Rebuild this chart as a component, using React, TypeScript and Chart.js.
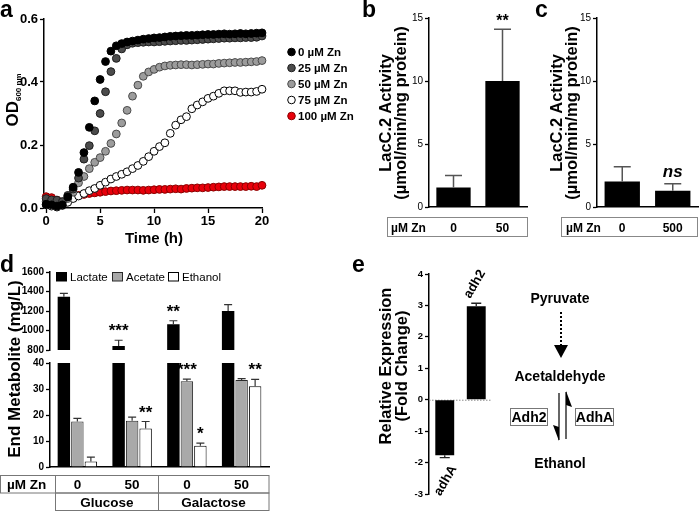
import React, { useEffect, useRef } from "react";
import { Chart, registerables } from "chart.js";

Chart.register(...registerables);

const FONT = "'Liberation Sans', Arial, Helvetica, sans-serif";

// ---------- Panel a: growth curves ----------
const hours = [0, 0.5, 1, 1.5, 2, 2.5, 3, 3.5, 4, 4.5, 5, 5.5, 6, 6.5, 7, 7.5, 8, 8.5, 9, 9.5, 10, 10.5, 11, 11.5, 12, 12.5, 13, 13.5, 14, 14.5, 15, 15.5, 16, 16.5, 17, 17.5, 18, 18.5, 19, 19.5, 20];
const od0 = [0.012, 0.010, 0.006, 0.010, 0.035, 0.066, 0.113, 0.176, 0.256, 0.340, 0.408, 0.465, 0.498, 0.515, 0.522, 0.527, 0.530, 0.533, 0.536, 0.538, 0.540, 0.541, 0.543, 0.545, 0.546, 0.547, 0.548, 0.548, 0.549, 0.550, 0.551, 0.551, 0.552, 0.553, 0.552, 0.553, 0.554, 0.553, 0.554, 0.555, 0.556];
const od25 = [0.030, 0.026, 0.025, 0.020, 0.040, 0.060, 0.095, 0.155, 0.198, 0.245, 0.300, 0.369, 0.433, 0.475, 0.505, 0.518, 0.523, 0.525, 0.526, 0.527, 0.527, 0.528, 0.529, 0.530, 0.531, 0.532, 0.532, 0.533, 0.534, 0.535, 0.536, 0.537, 0.538, 0.539, 0.539, 0.540, 0.540, 0.541, 0.541, 0.542, 0.546];
const od50 = [0.020, 0.018, 0.015, 0.020, 0.030, 0.050, 0.080, 0.100, 0.125, 0.145, 0.160, 0.180, 0.205, 0.235, 0.270, 0.310, 0.355, 0.390, 0.418, 0.432, 0.440, 0.447, 0.451, 0.453, 0.454, 0.455, 0.455, 0.454, 0.455, 0.456, 0.457, 0.457, 0.459, 0.460, 0.461, 0.462, 0.462, 0.463, 0.464, 0.465, 0.468];
const od75 = [0.010, 0.006, 0.003, 0.008, 0.018, 0.030, 0.038, 0.046, 0.055, 0.062, 0.072, 0.082, 0.092, 0.100, 0.107, 0.115, 0.125, 0.135, 0.148, 0.163, 0.180, 0.195, 0.207, 0.237, 0.263, 0.280, 0.290, 0.315, 0.327, 0.337, 0.348, 0.355, 0.364, 0.372, 0.372, 0.372, 0.367, 0.368, 0.368, 0.370, 0.377];
const od100 = [0.036, 0.033, 0.025, 0.015, 0.028, 0.035, 0.040, 0.043, 0.046, 0.048, 0.050, 0.052, 0.054, 0.055, 0.056, 0.057, 0.057, 0.057, 0.056, 0.057, 0.058, 0.059, 0.059, 0.060, 0.061, 0.060, 0.062, 0.063, 0.064, 0.064, 0.065, 0.066, 0.067, 0.068, 0.068, 0.068, 0.068, 0.068, 0.069, 0.068, 0.072];
const zincLabels = ["0 µM Zn", "25 µM Zn", "50 µM Zn", "75 µM Zn", "100 µM Zn"];
const zincFill = ["#000000", "#4b4b4b", "#9c9c9c", "#ffffff", "#e8000b"];
const zincStroke = ["#000000", "#1e1e1e", "#4a4a4a", "#000000", "#8a0000"];
const odTicks = [0, 0.2, 0.4, 0.6];
const timeTicks = [0, 5, 10, 15, 20];

// ---------- Panel b / c: LacC.2 activity ----------
const bDoses = ["0", "50"];
const bActivity = [1.55, 10.0];
const bErr = [0.95, 4.1];
const bSig = ["", "**"];
const cDoses = ["0", "500"];
const cActivity = [2.03, 1.29];
const cErr = [1.17, 0.55];
const cSig = ["", "ns"];
const activityTicks = [0, 5, 10, 15];

// ---------- Panel d: end metabolites ----------
const dDoses = ["0", "50", "0", "50"];
const dSugars = ["Glucose", "Galactose"];
const metaboliteNames = ["Lactate", "Acetate", "Ethanol"];
const lactate = [1346, 840, 1063, 1200];
const lactateErr = [34, 60, 37, 66];
const acetate = [17.5, 17.8, 33.0, 33.5];
const acetateErr = [1.2, 1.4, 0.8, 0.5];
const ethanol = [2.1, 14.8, 8.2, 31.1];
const ethanolErr = [1.7, 2.7, 1.0, 2.6];
const lactateSig = ["", "***", "**", ""];
const acetateSig = ["", "", "***", ""];
const ethanolSig = ["", "**", "*", "**"];
const upperTicks = [800, 1000, 1200, 1400, 1600];
const lowerTicks = [0, 10, 20, 30, 40];

// ---------- Panel e: relative expression ----------
const genes = ["adhA", "adh2"];
const foldChange = [-1.77, 2.97];
const foldErr = [0.07, 0.1];
const foldTicks = [-3, -2, -1, 0, 1, 2, 3, 4];

// ---------- plugins ----------
const errorBarPlugin = {
  id: "errbars",
  afterDatasetsDraw(chart: any, _a: any, opts: any) {
    const { ctx, chartArea: a } = chart;
    const ys = chart.scales.y;
    ctx.save();
    ctx.beginPath();
    ctx.rect(a.left - 10, a.top - 1, a.right - a.left + 20, a.bottom - a.top + 1);
    ctx.clip();
    ctx.strokeStyle = opts.color || "#333";
    ctx.lineWidth = opts.lineWidth || 1.2;
    chart.data.datasets.forEach((ds: any, di: number) => {
      if (!ds.errors) return;
      const meta = chart.getDatasetMeta(di);
      meta.data.forEach((el: any, i: number) => {
        const v = ds.data[i];
        const e = ds.errors[i];
        const s = v < 0 ? -1 : 1;
        const p0 = ys.getPixelForValue(v);
        const p1 = ys.getPixelForValue(v + s * e);
        const cap = opts.cap || 8;
        ctx.beginPath();
        ctx.moveTo(el.x, p0);
        ctx.lineTo(el.x, p1);
        ctx.moveTo(el.x - cap / 2, p1);
        ctx.lineTo(el.x + cap / 2, p1);
        ctx.stroke();
      });
    });
    ctx.restore();
    ctx.save();
    ctx.fillStyle = "#000";
    ctx.font = opts.sigFont || `bold 16px ${FONT}`;
    ctx.textAlign = "center";
    ctx.textBaseline = "alphabetic";
    chart.data.datasets.forEach((ds: any, di: number) => {
      if (!ds.sig) return;
      const meta = chart.getDatasetMeta(di);
      meta.data.forEach((el: any, i: number) => {
        const t = ds.sig[i];
        if (!t) return;
        const top = ys.getPixelForValue(ds.data[i] + (ds.errors ? ds.errors[i] : 0));
        ctx.fillText(t, el.x, top - (opts.sigGap ?? 4));
      });
    });
    ctx.restore();
  },
};

const geneLabelPlugin = {
  id: "genelabels",
  beforeDatasetsDraw(chart: any) {
    const { ctx, chartArea: a } = chart;
    const y0 = chart.scales.y.getPixelForValue(0);
    ctx.save();
    ctx.strokeStyle = "#8a8a8a";
    ctx.lineWidth = 1;
    ctx.setLineDash([1.5, 1.5]);
    ctx.beginPath();
    ctx.moveTo(a.left, y0 + 0.5);
    ctx.lineTo(a.right, y0 + 0.5);
    ctx.stroke();
    ctx.restore();
  },
  afterDatasetsDraw(chart: any) {
    const { ctx } = chart;
    const ys = chart.scales.y;
    const ds = chart.data.datasets[0];
    const meta = chart.getDatasetMeta(0);
    ctx.save();
    ctx.fillStyle = "#000";
    ctx.font = `bold 13px ${FONT}`;
    ctx.textBaseline = "middle";
    meta.data.forEach((el: any, i: number) => {
      const v = ds.data[i];
      const e = ds.errors[i];
      const s = v < 0 ? -1 : 1;
      const p = ys.getPixelForValue(v + s * e);
      ctx.save();
      if (s > 0) {
        ctx.translate(el.x - 9, p - 6);
        ctx.rotate(-Math.PI / 3);
        ctx.textAlign = "left";
      } else {
        ctx.translate(el.x + 9, p + 9);
        ctx.rotate(-Math.PI / 3);
        ctx.textAlign = "right";
      }
      ctx.fillText(chart.data.labels[i], 0, 0);
      ctx.restore();
    });
    ctx.restore();
  },
};

// ---------- helpers ----------
function yAxis(min: number, max: number, ticks: number[], width: number, font: any, fmt?: (v: number) => string) {
  return {
    type: "linear",
    position: "left",
    min,
    max,
    afterBuildTicks: (s: any) => {
      s.ticks = ticks.map((v) => ({ value: v }));
    },
    afterFit: (s: any) => {
      s.width = width;
    },
    grid: { drawOnChartArea: false, drawTicks: true, tickLength: 4, tickColor: "#000", tickWidth: 1.3 },
    border: { display: true, color: "#000", width: 1.5 },
    ticks: {
      color: "#000",
      font,
      padding: 2,
      autoSkip: false,
      callback: (v: any) => (fmt ? fmt(Number(v)) : String(v)),
    },
  };
}

function flatX(display = true) {
  return {
    display,
    grid: { display: false },
    ticks: { display: false },
    border: { display: true, color: "#000", width: 1.5 },
    afterFit: (s: any) => {
      s.height = 0;
    },
  };
}

const baseOpts = {
  responsive: false,
  maintainAspectRatio: false,
  animation: false,
  devicePixelRatio: 1,
  events: [],
};

function ChartCanvas({ left, top, width, height, make }: any) {
  const ref = useRef<HTMLCanvasElement | null>(null);
  useEffect(() => {
    const chart = new Chart(ref.current as HTMLCanvasElement, make());
    return () => chart.destroy();
  }, []);
  return (
    <canvas
      ref={ref}
      width={width}
      height={height}
      style={{ position: "absolute", left, top, width, height }}
    />
  );
}

// ---------- chart configs ----------
const makeA = () => {
  const series = [od0, od25, od50, od75, od100];
  return {
    type: "scatter",
    data: {
      datasets: series.map((vals, k) => ({
        label: zincLabels[k],
        data: hours.map((h, i) => ({ x: h, y: vals[i] })),
        pointRadius: 3.9,
        pointBorderWidth: 1,
        pointBackgroundColor: zincFill[k],
        pointBorderColor: zincStroke[k],
        showLine: false,
        clip: false,
      })),
    },
    options: {
      ...baseOpts,
      layout: { padding: { left: 0, top: 19, right: 28, bottom: 0 } },
      plugins: { legend: { display: false }, tooltip: { enabled: false } },
      scales: {
        x: {
          type: "linear",
          min: -0.2,
          max: 20,
          afterBuildTicks: (s: any) => {
            s.ticks = timeTicks.map((v) => ({ value: v }));
          },
          afterFit: (s: any) => {
            s.height = 42;
          },
          grid: { drawOnChartArea: false, drawTicks: true, tickLength: 5, tickColor: "#000", tickWidth: 1.3 },
          border: { display: true, color: "#000", width: 1.5 },
          ticks: { color: "#000", font: { family: FONT, size: 13, weight: "bold" }, padding: 1, maxRotation: 0, autoSkip: false },
        },
        y: yAxis(0, 0.6, odTicks, 44, { family: FONT, size: 13, weight: "bold" }, (v) => v.toFixed(1)),
      },
    },
  };
};

const makeActivity = (labels: string[], vals: number[], errs: number[], sig: string[], yWidth: number, padRight: number, sigFont: string, sigGap: number) => () => ({
  type: "bar",
  data: {
    labels,
    datasets: [
      {
        data: vals,
        errors: errs,
        sig,
        backgroundColor: "#000",
        borderWidth: 0,
        barPercentage: 0.7,
        categoryPercentage: 1,
      },
    ],
  },
  plugins: [errorBarPlugin],
  options: {
    ...baseOpts,
    layout: { padding: { left: 0, top: 18, right: padRight, bottom: 6 } },
    plugins: {
      legend: { display: false },
      tooltip: { enabled: false },
      errbars: { color: "#555", lineWidth: 1.5, cap: 17, sigFont, sigGap },
    },
    scales: {
      x: flatX(true),
      y: yAxis(0, 15, activityTicks, yWidth, { family: FONT, size: 10 }),
    },
  },
});

const dDatasets = (upper: boolean) => [
  {
    label: metaboliteNames[0],
    data: lactate,
    errors: lactateErr,
    sig: upper ? lactateSig : undefined,
    backgroundColor: "#000",
    borderColor: "#000",
    borderWidth: 0,
  },
  {
    label: metaboliteNames[1],
    data: acetate,
    errors: acetateErr,
    sig: upper ? undefined : acetateSig,
    backgroundColor: "#a9a9a9",
    borderColor: "#2a2a2a",
    borderWidth: 1,
  },
  {
    label: metaboliteNames[2],
    data: ethanol,
    errors: ethanolErr,
    sig: upper ? undefined : ethanolSig,
    backgroundColor: "#ffffff",
    borderColor: "#000",
    borderWidth: 1,
  },
];

const makeD = (upper: boolean) => () => ({
  type: "bar",
  data: { labels: dDoses, datasets: dDatasets(upper) },
  plugins: [errorBarPlugin],
  options: {
    ...baseOpts,
    datasets: { bar: { categoryPercentage: 0.74, barPercentage: 0.92 } },
    layout: { padding: upper ? { left: 0, top: 14, right: 11, bottom: 6 } : { left: 0, top: 7, right: 11, bottom: 8 } },
    plugins: {
      legend: { display: false },
      tooltip: { enabled: false },
      errbars: { color: "#333", lineWidth: 1.2, cap: 8, sigFont: `bold 17px ${FONT}`, sigGap: 4 },
    },
    scales: {
      x: flatX(!upper),
      y: upper
        ? yAxis(800, 1600, upperTicks, 50, { family: FONT, size: 10, weight: "bold" })
        : yAxis(0, 40, lowerTicks, 50, { family: FONT, size: 10, weight: "bold" }),
    },
  },
});

const makeE = () => ({
  type: "bar",
  data: {
    labels: genes,
    datasets: [
      {
        data: foldChange,
        errors: foldErr,
        backgroundColor: "#000",
        borderWidth: 0,
        barPercentage: 0.6,
        categoryPercentage: 1,
      },
    ],
  },
  plugins: [geneLabelPlugin, errorBarPlugin],
  options: {
    ...baseOpts,
    layout: { padding: { left: 0, top: 12, right: 8, bottom: 8 } },
    plugins: {
      legend: { display: false },
      tooltip: { enabled: false },
      errbars: { color: "#222", lineWidth: 1.3, cap: 10 },
    },
    scales: {
      x: { display: false },
      y: yAxis(-3, 4, foldTicks, 49, { family: FONT, size: 9.5, weight: "bold" }),
    },
  },
});

// ---------- overlay (titles, legends, tables, pathway) ----------
function Overlay() {
  const bold = { fontWeight: "bold" } as any;
  const legendY = [52, 68, 84, 100, 116];
  const dGroupX = [77.4, 132.1, 186.9, 241.6];
  const dSwatch = [
    { fill: "#000", stroke: "#000" },
    { fill: "#a9a9a9", stroke: "#2a2a2a" },
    { fill: "#fff", stroke: "#000" },
  ];
  const dSwatchX = [56, 112, 168];
  return (
    <svg
      width={700}
      height={516}
      style={{ position: "absolute", left: 0, top: 0, pointerEvents: "none" }}
      fontFamily={FONT}
    >
      {/* panel letters */}
      <text x={0} y={17} fontSize={23} {...bold}>a</text>
      <text x={362} y={17} fontSize={23} {...bold}>b</text>
      <text x={535} y={17} fontSize={23} {...bold}>c</text>
      <text x={0} y={272} fontSize={23} {...bold}>d</text>
      <text x={352} y={272} fontSize={23} {...bold}>e</text>

      {/* panel a titles */}
      <text x={154} y={243} fontSize={15} textAnchor="middle" {...bold}>Time (h)</text>
      <text transform="translate(18,100) rotate(-90)" textAnchor="middle" fontSize={17} {...bold}>
        OD<tspan fontSize={8} dy={3}>600 nm</tspan>
      </text>
      {/* panel a legend */}
      {zincLabels.map((l, i) => (
        <g key={l}>
          <circle cx={291.5} cy={legendY[i]} r={3.8} fill={zincFill[i]} stroke={zincStroke[i]} strokeWidth={1} />
          <text x={298} y={legendY[i] + 4} fontSize={11.5} {...bold}>{l}</text>
        </g>
      ))}

      {/* panel b/c titles */}
      <text transform="translate(391,113) rotate(-90)" textAnchor="middle" fontSize={16.5} {...bold}>
        <tspan x={0} dy={0}>LacC.2 Activity</tspan>
        <tspan x={0} dy={15}>(µmol/min/mg protein)</tspan>
      </text>
      <text transform="translate(562,113) rotate(-90)" textAnchor="middle" fontSize={16.5} {...bold}>
        <tspan x={0} dy={0}>LacC.2 Activity</tspan>
        <tspan x={0} dy={15}>(µmol/min/mg protein)</tspan>
      </text>
      {/* b table */}
      <rect x={387.5} y={217.5} width={140} height={19} fill="none" stroke="#888" strokeWidth={1} />
      <text x={391} y={231.5} fontSize={12} {...bold}>µM Zn</text>
      {bDoses.map((d, i) => (
        <text key={"b" + i} x={[453.5, 502.5][i]} y={231.5} fontSize={12} textAnchor="middle" {...bold}>{d}</text>
      ))}
      {/* c table */}
      <rect x={561.5} y={217.5} width={136} height={19} fill="none" stroke="#888" strokeWidth={1} />
      <text x={566} y={231.5} fontSize={12} {...bold}>µM Zn</text>
      {cDoses.map((d, i) => (
        <text key={"c" + i} x={[622.2, 672.7][i]} y={231.5} fontSize={12} textAnchor="middle" {...bold}>{d}</text>
      ))}

      {/* panel d */}
      <text transform="translate(20,369) rotate(-90)" textAnchor="middle" fontSize={17} {...bold}>End Metabolite (mg/L)</text>
      {metaboliteNames.map((n, i) => (
        <g key={n}>
          <rect x={dSwatchX[i] + 0.5} y={272.5} width={10} height={8.5} fill={dSwatch[i].fill} stroke={dSwatch[i].stroke} strokeWidth={1} />
          <text x={dSwatchX[i] + 14} y={281} fontSize={11.5}>{n}</text>
        </g>
      ))}
      <rect x={0.5} y={475.5} width={268.5} height={17.5} fill="none" stroke="#777" strokeWidth={1} />
      <rect x={55.5} y={493} width={213.5} height={17.5} fill="none" stroke="#777" strokeWidth={1} />
      <line x1={55.5} y1={475.5} x2={55.5} y2={493} stroke="#777" strokeWidth={1} />
      <line x1={158.5} y1={475.5} x2={158.5} y2={510.5} stroke="#777" strokeWidth={1} />
      <text x={7} y={489} fontSize={13.5} {...bold}>µM Zn</text>
      {dDoses.map((d, i) => (
        <text key={"d" + i} x={dGroupX[i]} y={489} fontSize={13.5} textAnchor="middle" {...bold}>{d}</text>
      ))}
      {dSugars.map((s, i) => (
        <text key={s} x={[107, 213.5][i]} y={507} fontSize={13.5} textAnchor="middle" {...bold}>{s}</text>
      ))}

      {/* panel e */}
      <text transform="translate(391,366) rotate(-90)" textAnchor="middle" fontSize={16.5} {...bold}>
        <tspan x={0} dy={0}>Relative Expression</tspan>
        <tspan x={0} dy={16}>(Fold Change)</tspan>
      </text>
      <text x={560} y={303} fontSize={14} textAnchor="middle" {...bold}>Pyruvate</text>
      <line x1={561} y1={312} x2={561} y2={346} stroke="#000" strokeWidth={2} strokeDasharray="2,2" />
      <polygon points="554,345 568,345 561,358" fill="#000" />
      <text x={560} y={381} fontSize={14} textAnchor="middle" {...bold}>Acetaldehyde</text>
      <line x1={559} y1={393} x2={559} y2={440} stroke="#333" strokeWidth={1.5} />
      <polygon points="559,441 553,425 559,427" fill="#000" />
      <line x1={566} y1={392} x2={566} y2={439} stroke="#333" strokeWidth={1.5} />
      <polygon points="566,391 572,407 566,405" fill="#000" />
      <rect x={510.5} y={408.5} width={37} height={17} fill="#fff" stroke="#777" strokeWidth={1} />
      <text x={529} y={422} fontSize={14} textAnchor="middle" {...bold}>Adh2</text>
      <rect x={575.5} y={408.5} width={38} height={17} fill="#fff" stroke="#777" strokeWidth={1} />
      <text x={594.5} y={422} fontSize={14} textAnchor="middle" {...bold}>AdhA</text>
      <text x={560} y={468} fontSize={14} textAnchor="middle" {...bold}>Ethanol</text>
    </svg>
  );
}

export default function App() {
  return (
    <div
      style={{
        position: "fixed",
        left: 0,
        top: 0,
        width: 700,
        height: 516,
        background: "#fff",
        overflow: "hidden",
      }}
    >
      <ChartCanvas left={0} top={0} width={290} height={250} make={makeA} />
      <ChartCanvas left={380} top={0} width={160} height={215} make={makeActivity(bDoses, bActivity, bErr, bSig, 49, 13, `bold 16px ${FONT}`, 3)} />
      <ChartCanvas left={545} top={0} width={155} height={215} make={makeActivity(cDoses, cActivity, cErr, cSig, 52, 2, `italic bold 17px ${FONT}`, 7)} />
      <ChartCanvas left={0} top={258} width={280} height={100} make={makeD(true)} />
      <ChartCanvas left={0} top={355} width={280} height={120} make={makeD(false)} />
      <ChartCanvas left={380} top={262} width={120} height={240} make={makeE} />
      <Overlay />
    </div>
  );
}
